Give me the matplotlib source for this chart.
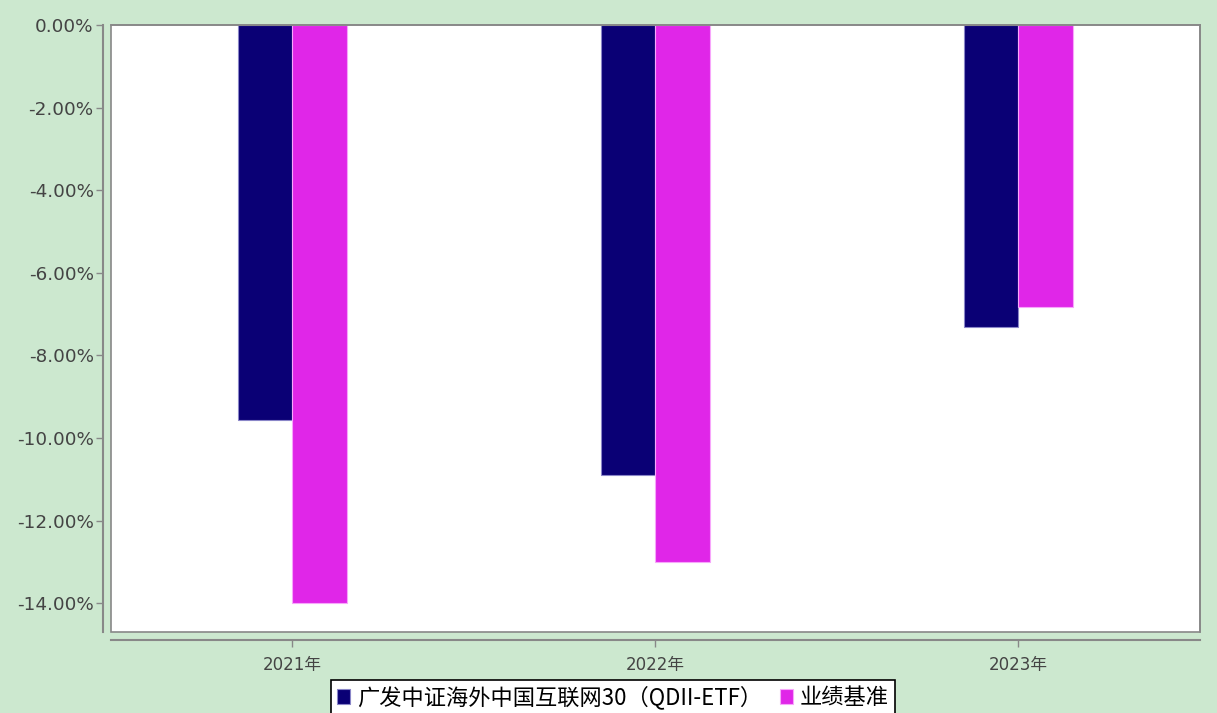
import matplotlib.pyplot as plt
import numpy as np
from matplotlib.patches import Rectangle

plt.rcParams['font.family'] = ['DejaVu Sans', 'Noto Sans CJK SC']

# --------- DATA ----------
years = ['2021年', '2022年', '2023年']
fund = [-9.57, -10.90, -7.31]
bench = [-14.00, -13.01, -6.83]
fund_name = '广发中证海外中国互联网30（QDII-ETF）'
bench_name = '业绩基准'
yticks = [0, -2, -4, -6, -8, -10, -12, -14]
# -------------------------

bg = '#cce8cf'
fh = plt.figure(figsize=(12.17, 7.13), dpi=100, facecolor=bg)
ax = fh.add_axes([111/1217, 1-632/713, (1200-111)/1217, (632-25)/713])
ax.set_facecolor('white')

x = np.arange(len(years))
w = 0.149
ax.bar(x - w/2, fund, w, color='#0a0075', edgecolor='#8a86c8', linewidth=0.8, label=fund_name)
ax.bar(x + w/2, bench, w, color='#e026e8', edgecolor='#f7a6fb', linewidth=0.8, label=bench_name)

ax.set_xlim(-0.5, 2.5)
ax.set_ylim(-14.7, 0)

# offset axis lines, frame drawn separately
for s in ['left', 'bottom']:
    ax.spines[s].set_position(('outward', 6))
    ax.spines[s].set_color('#888888')
    ax.spines[s].set_linewidth(1.5)
for s in ['top', 'right']:
    ax.spines[s].set_color('#888888')
    ax.spines[s].set_linewidth(1.2)
ax.add_patch(Rectangle((0, 0), 1, 1, transform=ax.transAxes, fill=False,
                       edgecolor='#888888', linewidth=1.2, clip_on=False))
ax.tick_params(axis='both', colors='#888888', labelcolor='#444444', length=5, width=1)
ax.tick_params(axis='y', pad=1.5, labelsize=13.2)
ax.tick_params(axis='x', pad=6, labelsize=12)

ax.set_xticks(x)
ax.set_xticklabels(years)
ax.set_yticks(yticks)
ax.set_yticklabels(['%.2f%%' % v for v in yticks])

leg = fh.legend(loc='upper center', bbox_to_anchor=(613/1217, 1-680/713), ncol=2,
                frameon=True, fancybox=False, edgecolor='black', framealpha=1,
                handlelength=0.6, handleheight=0.6, handletextpad=0.3, columnspacing=0.8,
                borderpad=0.25, borderaxespad=0,
                prop={'family': ['Noto Sans CJK SC'], 'size': 16})
leg.get_frame().set_linewidth(1.2)

plt.savefig('out.png', dpi=100, facecolor=bg)
